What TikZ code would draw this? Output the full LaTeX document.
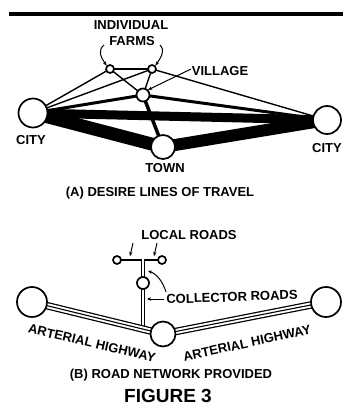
\documentclass[tikz,border=0pt]{standalone}
\usepackage{fontspec}
\setmainfont{Liberation Sans}
\usetikzlibrary{arrows.meta,backgrounds}
\begin{document}
\begin{tikzpicture}[x=1pt,y=-1pt,
  lbl/.style={font=\fontsize{13}{15}\selectfont\bfseries, inner sep=0pt, text height=9.3pt, text depth=0pt},
  place/.style={circle, draw, line width=1.7pt, fill=white, inner sep=0pt, minimum size=#1},
  thinline/.style={line width=1.4pt},
  midline/.style={line width=3pt},
  lead/.style={line width=1pt, -{Stealth[length=4pt,width=3.5pt]}},
  road/.style={line width=7.5pt, postaction={draw=white, line width=5pt}, postaction={draw=black, line width=1.1pt}},
  stemroad/.style={draw, double=white, double distance=2pt, line width=1.2pt},
]
\useasboundingbox (0,0) rectangle (343,412);

% ---------- top rule ----------
\fill (9,12) rectangle (343,16);

% ---------- (A) desire lines ----------
\node[place=29pt] (cityL) at (33,113) {};
\node[place=8pt]  (farm1) at (110,69) {};
\node[place=8pt]  (farm2) at (152,69) {};
\node[place=13pt] (vill)  at (143,95) {};
\node[place=24pt] (town)  at (163,147) {};
\node[place=28pt] (cityR) at (327,120) {};

\begin{scope}[on background layer]
  \fill[white] (0,0) rectangle (343,412);
  \draw[line width=9pt]  (cityL.center) -- (cityR.center);
  \draw[line width=13pt] (cityL.center) -- (town.center);
  \draw[line width=12pt] (town.center) -- (cityR.center);
  \draw[midline] (cityL.center) -- (vill.center);
  \draw[midline] (vill.center) -- (cityR.center);
  \draw[line width=3.5pt] (vill.center) -- (town.center);
  \draw[thinline] (cityL.center) -- (farm1.center);
  \draw[thinline] (cityL.center) -- (farm2.center);
  \draw[thinline] (farm1.center) -- (farm2.center);
  \draw[thinline] (farm1.center) -- (vill.center);
  \draw[thinline] (farm2.center) -- (vill.center);
  \draw[thinline] (farm2.center) -- (cityR.center);
\end{scope}

\node[lbl] (indiv) at (131,25) {INDIVIDUAL};
\node[lbl] (farms) at (132,41) {FARMS};
\node[lbl] (villlbl) at (220,71) {VILLAGE};
\node[lbl] (cityLlbl) at (31,140) {CITY};
\node[lbl] (townlbl) at (165,168) {TOWN};
\node[lbl] (cityRlbl) at (327,148) {CITY};
\node[lbl] (captA) at (160,192) {(A) DESIRE LINES OF TRAVEL};

\coordinate (fl1) at (104,45);
\coordinate (fl2) at (160,45);
\coordinate (vl) at (191,69);
\draw[lead] (fl1) .. controls (98,50) and (100,56) .. (farm1.north west);
\draw[lead] (fl2) .. controls (165,50) and (162,56) .. (farm2.north east);
\draw[lead] (vl) -- (vill.north east);

% ---------- (B) road network ----------
\node[place=8pt]  (locL) at (117,260) {};
\node[place=8pt]  (locR) at (162,260) {};
\node[place=12pt] (coll) at (143,283) {};
\node[place=30pt] (cityLB) at (32,302) {};
\node[place=25pt] (townB) at (163,334) {};
\node[place=30pt] (cityRB) at (326,302) {};
\coordinate (tee) at (143,259);
\coordinate (foot) at (143,329);

\begin{scope}[on background layer]
  \draw[thinline] (locL.center) -- (locR.center);
  \draw[stemroad] (tee) -- (coll.center);
  \draw[stemroad] (coll.center) -- (foot);
  \draw[road] (cityLB.center) -- (townB.center);
  \draw[road] (townB.center) -- (cityRB.center);
\end{scope}

\node[lbl] (loclbl) at (189,235) {LOCAL ROADS};
\node[lbl, rotate=2] (colllbl) at (232,297) {COLLECTOR ROADS};
\node[lbl, rotate=-13] (art1) at (92,343) {ARTERIAL HIGHWAY};
\node[lbl, rotate=12] (art2) at (247,343) {ARTERIAL HIGHWAY};
\node[lbl] (captB) at (171,374) {(B) ROAD NETWORK PROVIDED};
\node[font=\fontsize{19}{22}\selectfont\bfseries, inner sep=0pt] (fig) at (168,396) {FIGURE 3};

\coordinate (la1) at (133,243);
\coordinate (lb1) at (130,256);
\coordinate (la2) at (157,243);
\coordinate (lb2) at (154,256);
\draw[lead] (la1) -- (lb1);
\draw[lead] (la2) -- (lb2);
\coordinate (ca) at (164,299);
\coordinate (cb) at (147,299);
\draw[lead] (ca) -- (cb);
\coordinate (cc) at (166,292);
\coordinate (cd) at (148,271);
\draw[lead] (cc) .. controls (163,282) and (157,274) .. (cd);
\end{tikzpicture}
\end{document}
